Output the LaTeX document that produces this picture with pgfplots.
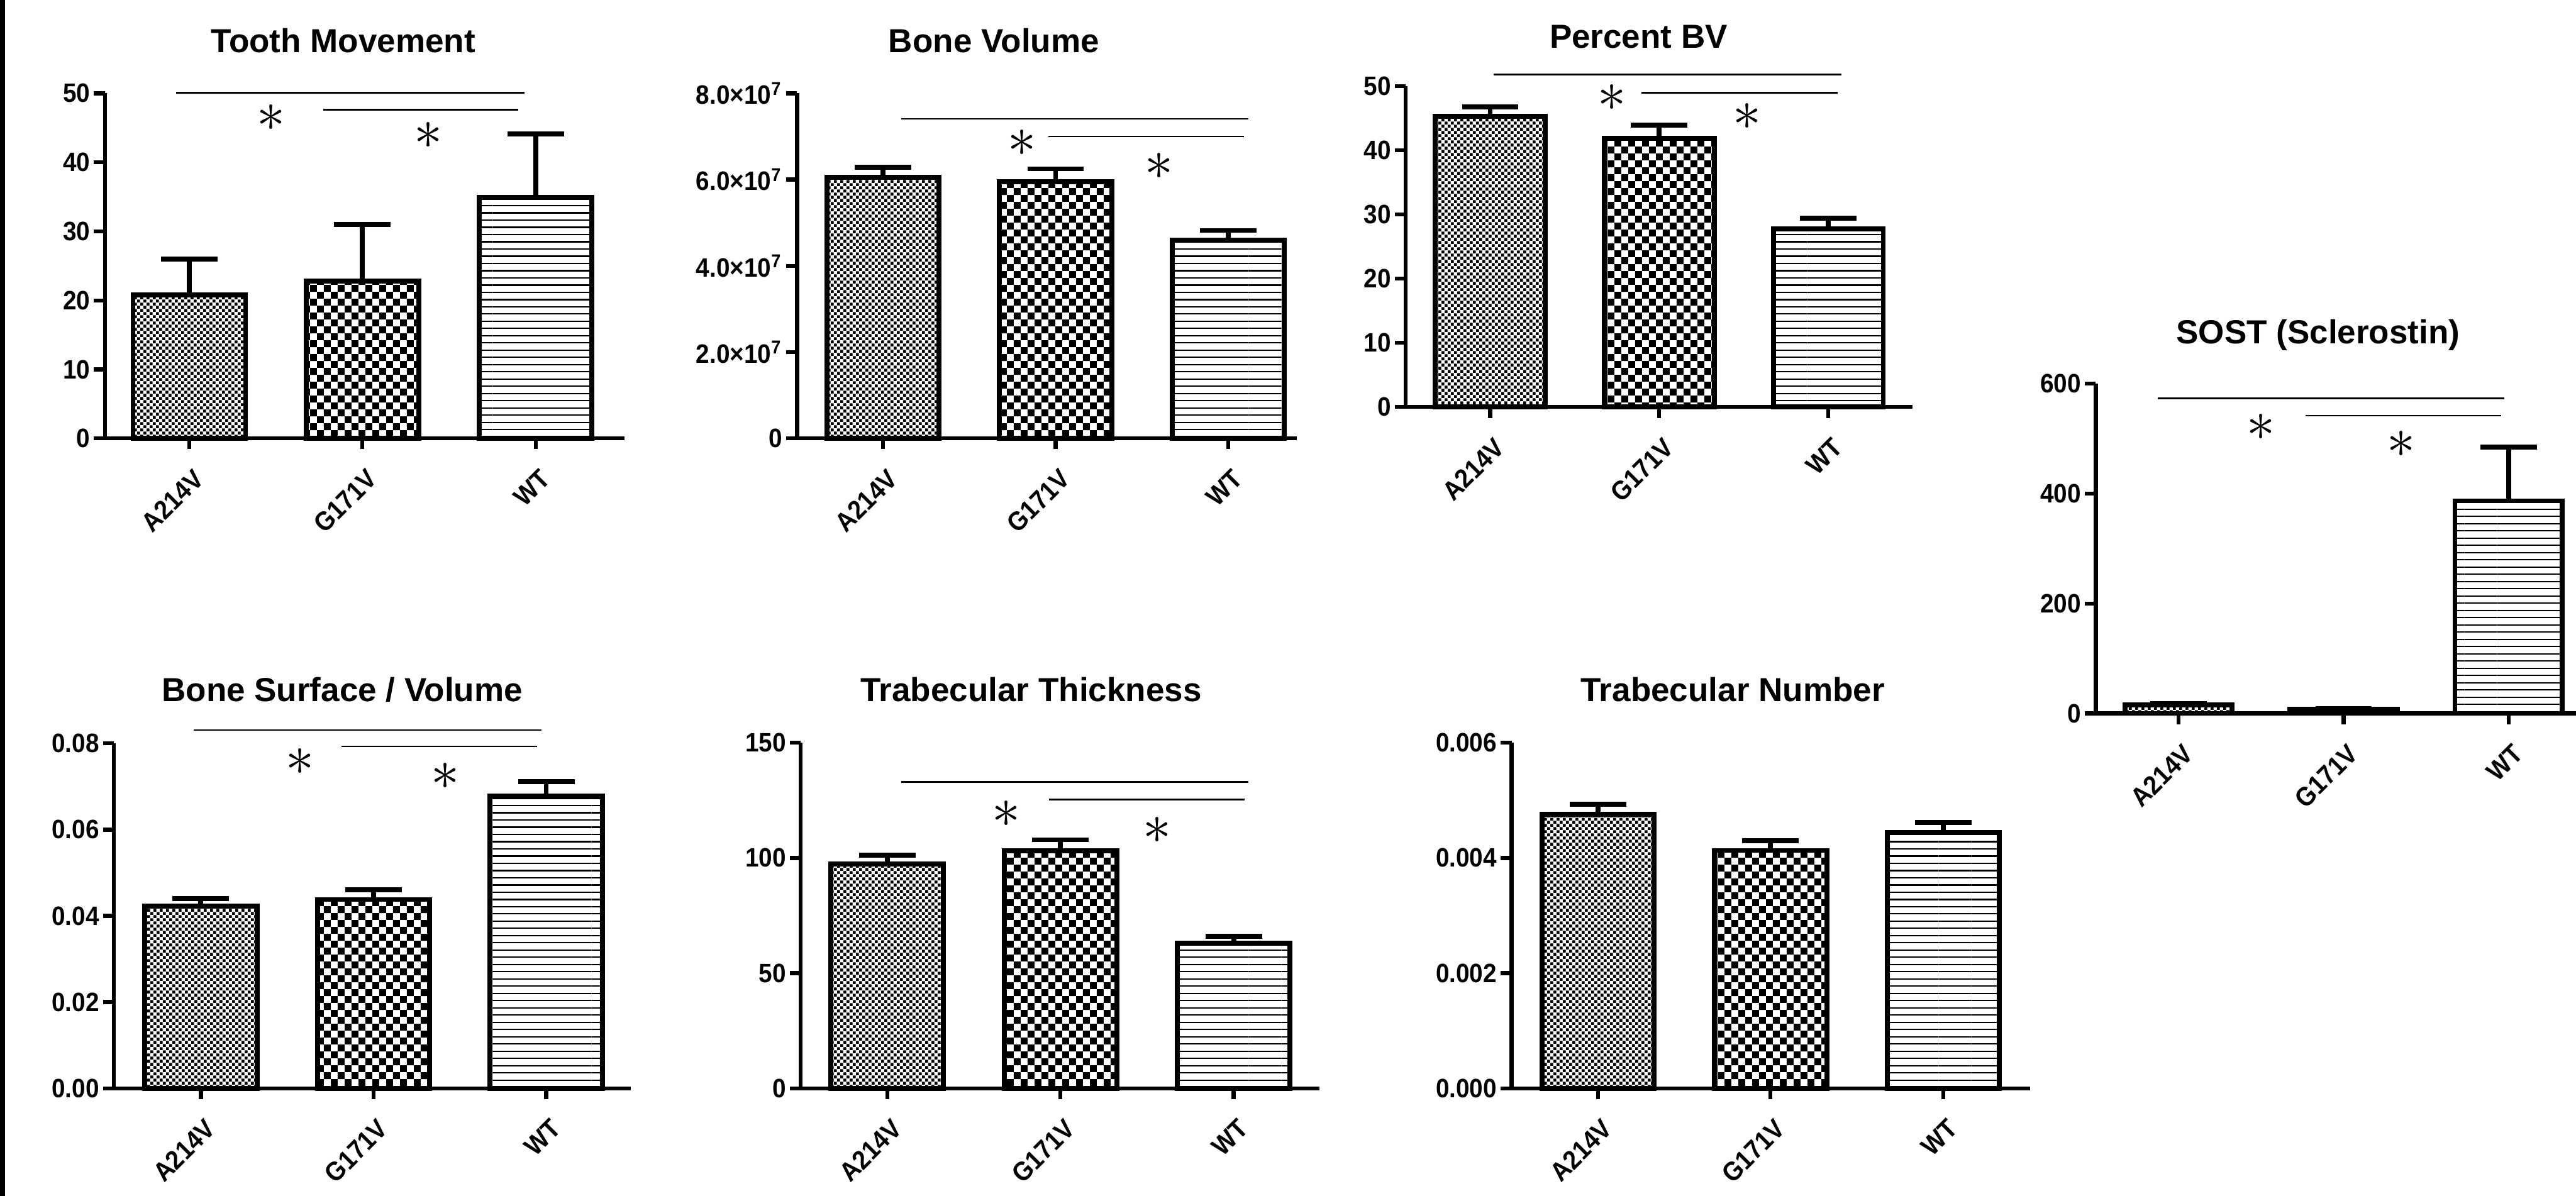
\documentclass[border=0pt]{standalone}
\usepackage{fontspec}
\setmainfont{Liberation Sans}
\newfontfamily\tickfam[FakeStretch=0.915]{Liberation Sans}
\usepackage{pgfplots}
\pgfplotsset{compat=1.18}
\usetikzlibrary{patterns}

\pgfdeclarepatternformonly{finecheck}{\pgfpointorigin}{\pgfqpoint{2pt}{2pt}}{\pgfqpoint{2pt}{2pt}}{%
  \pgfpathrectangle{\pgfqpoint{0.05pt}{0.05pt}}{\pgfqpoint{0.9pt}{0.9pt}}%
  \pgfpathrectangle{\pgfqpoint{1.05pt}{1.05pt}}{\pgfqpoint{0.9pt}{0.9pt}}%
  \pgfusepath{fill}}
\pgfdeclarepatternformonly{coarsecheck}{\pgfpointorigin}{\pgfqpoint{4.2pt}{4.2pt}}{\pgfqpoint{4.2pt}{4.2pt}}{%
  \pgfpathrectangle{\pgfpointorigin}{\pgfqpoint{2.1pt}{2.1pt}}%
  \pgfpathrectangle{\pgfqpoint{2.1pt}{2.1pt}}{\pgfqpoint{2.1pt}{2.1pt}}%
  \pgfusepath{fill}}
\pgfdeclarepatternformonly{hlinesWT}{\pgfqpoint{0pt}{-0.5pt}}{\pgfqpoint{10pt}{0.5pt}}{\pgfqpoint{10pt}{2.2pt}}{%
  \pgfsetlinewidth{0.4pt}%
  \pgfpathmoveto{\pgfqpoint{0pt}{0pt}}%
  \pgfpathlineto{\pgfqpoint{10pt}{0pt}}%
  \pgfusepath{stroke}}

\newcommand\titlefont{\fontsize{10.15}{12}\selectfont\bfseries}
\newcommand\tickfont{\fontsize{8.1}{9}\selectfont\tickfam\bfseries}

\tikzset{sigstar/.style={font=\fontsize{19}{19}\selectfont, inner sep=0pt}}

\pgfplotsset{
  panel/.style={
    scale only axis, anchor=south west,
    axis lines=left,
    every outer x axis line/.append style={-},
    every outer y axis line/.append style={-},
    axis line style={-, line width=1.2pt, black},
    tick align=outside, major tick length=3.3pt,
    tick style={line width=1.2pt, black},
    ymin=0, clip=false, scaled y ticks=false,
    xtick={0,1,2}, xticklabels={A214V,G171V,WT},
    tick label style={font=\tickfont},
    xticklabel style={xshift=3pt, yshift=-7.5pt, rotate=45, anchor=east, inner sep=0pt},
    yticklabel style={inner sep=1pt},
    minor tick num=0,
  },
  errs/.style={
    /pgfplots/error bars/y dir=plus,
    /pgfplots/error bars/y explicit,
    /pgfplots/error bars/error bar style={line width=1.5pt, black},
    /pgfplots/error bars/error mark options={rotate=90, line width=1.5pt, black, mark size=8.6pt},
  },
  barA/.style={ybar, bar width=0.65, bar shift=0pt, draw=black, line width=1.5pt, pattern=finecheck, pattern color=black, errs},
  barG/.style={ybar, bar width=0.65, bar shift=0pt, draw=black, line width=1.5pt, pattern=coarsecheck, pattern color=black, errs},
  barW/.style={ybar, bar width=0.65, bar shift=0pt, draw=black, line width=1.5pt, pattern=hlinesWT, pattern color=black, errs},
  sig/.style={black, line width=0.5pt, mark=none},
}

\begin{document}
\begin{tikzpicture}
\useasboundingbox (0,0) rectangle (784pt,-364pt);
\fill[black] (0,0) rectangle (1.5pt,-364pt);

% Tooth Movement
\begin{axis}[panel, at={(31.9pt,-133.45pt)}, width=158.1pt, height=105.05pt,
  xmin=-0.488, xmax=2.512, ymax=50,
  ytick={0,10,20,30,40,50}, yticklabels={0,10,20,30,40,50}]
\addplot[barA] coordinates {(0,20.8) +- (0,5.2)};
\addplot[barG] coordinates {(1,22.8) +- (0,8.2)};
\addplot[barW] coordinates {(2,34.9) +- (0,9.2)};
\addplot[sig] coordinates {(-0.076,50.1) (1.935,50.1)};
\addplot[sig] coordinates {(0.774,47.6) (1.90,47.6)};
\node[sigstar] at (axis cs:0.473,46.4) {$\ast$};
\node[sigstar] at (axis cs:1.38,43.9) {$\ast$};
\end{axis}

% Bone Volume
\begin{axis}[panel, at={(242.6pt,-133.45pt)}, width=152.1pt, height=105.05pt,
  xmin=-0.498, xmax=2.398, ymax=8e7,
  ytick={0,2e7,4e7,6e7,8e7},
  yticklabels={0,2.0×10\textsuperscript{7},4.0×10\textsuperscript{7},6.0×10\textsuperscript{7},8.0×10\textsuperscript{7}}]
\addplot[barA] coordinates {(0,6.05e7) +- (0,0.24e7)};
\addplot[barG] coordinates {(1,5.95e7) +- (0,0.30e7)};
\addplot[barW] coordinates {(2,4.60e7) +- (0,0.22e7)};
\addplot[sig] coordinates {(0.105,7.41e7) (2.118,7.41e7)};
\addplot[sig] coordinates {(0.957,7.0e7) (2.091,7.0e7)};
\node[sigstar] at (axis cs:0.805,6.85e7) {$\ast$};
\node[sigstar] at (axis cs:1.6,6.31e7) {$\ast$};
\end{axis}

% Percent BV
\begin{axis}[panel, at={(427.8pt,-123.9pt)}, width=154.35pt, height=97.65pt,
  xmin=-0.5, xmax=2.5, ymax=50,
  ytick={0,10,20,30,40,50}, yticklabels={0,10,20,30,40,50}]
\addplot[barA] coordinates {(0,45.3) +- (0,1.5)};
\addplot[barG] coordinates {(1,41.9) +- (0,2.0)};
\addplot[barW] coordinates {(2,27.8) +- (0,1.6)};
\addplot[sig] coordinates {(0.022,51.8) (2.079,51.8)};
\addplot[sig] coordinates {(0.894,49.0) (2.055,49.0)};
\node[sigstar] at (axis cs:0.72,48.2) {$\ast$};
\node[sigstar] at (axis cs:1.52,45.3) {$\ast$};
\end{axis}

% SOST
\begin{axis}[panel, at={(637.85pt,-217.15pt)}, width=146.15pt, height=100.4pt,
  xmin=-0.502, xmax=2.409, ymax=600,
  ytick={0,200,400,600}, yticklabels={0,200,400,600}]
\addplot[barA] coordinates {(0,15) +- (0,3)};
\addplot[barG] coordinates {(1,7) +- (0,2)};
\addplot[barW] coordinates {(2,386.7) +- (0,97.5)};
\addplot[sig] coordinates {(-0.125,573.4) (1.975,573.4)};
\addplot[sig] coordinates {(0.77,541.8) (1.956,541.8)};
\node[sigstar] at (axis cs:0.50,520.9) {$\ast$};
\node[sigstar] at (axis cs:1.35,489.2) {$\ast$};
\end{axis}

% Bone Surface / Volume
\begin{axis}[panel, at={(34.7pt,-331.25pt)}, width=157.3pt, height=104.95pt,
  xmin=-0.503, xmax=2.49, ymax=0.08,
  ytick={0,0.02,0.04,0.06,0.08}, yticklabels={0.00,0.02,0.04,0.06,0.08}]
\addplot[barA] coordinates {(0,0.0423) +- (0,0.0017)};
\addplot[barG] coordinates {(1,0.0438) +- (0,0.0023)};
\addplot[barW] coordinates {(2,0.0678) +- (0,0.0034)};
\addplot[sig] coordinates {(-0.04,0.0831) (1.971,0.0831)};
\addplot[sig] coordinates {(0.814,0.0793) (1.947,0.0793)};
\node[sigstar] at (axis cs:0.575,0.0758) {$\ast$};
\node[sigstar] at (axis cs:1.414,0.0724) {$\ast$};
\end{axis}

% Trabecular Thickness
\begin{axis}[panel, at={(243.7pt,-331.25pt)}, width=157.8pt, height=105.15pt,
  xmin=-0.5, xmax=2.494, ymax=150,
  ytick={0,50,100,150}, yticklabels={0,50,100,150}]
\addplot[barA] coordinates {(0,97.4) +- (0,3.8)};
\addplot[barG] coordinates {(1,103.2) +- (0,4.7)};
\addplot[barW] coordinates {(2,63.0) +- (0,2.9)};
\addplot[sig] coordinates {(0.08,133.0) (2.086,133.0)};
\addplot[sig] coordinates {(0.933,125.3) (2.062,125.3)};
\node[sigstar] at (axis cs:0.687,119.0) {$\ast$};
\node[sigstar] at (axis cs:1.56,111.9) {$\ast$};
\end{axis}

% Trabecular Number
\begin{axis}[panel, at={(460.05pt,-331.25pt)}, width=157.85pt, height=105.15pt,
  xmin=-0.5, xmax=2.504, ymax=0.006,
  ytick={0,0.002,0.004,0.006}, yticklabels={0.000,0.002,0.004,0.006}]
\addplot[barA] coordinates {(0,0.00476) +- (0,0.00017)};
\addplot[barG] coordinates {(1,0.00413) +- (0,0.00017)};
\addplot[barW] coordinates {(2,0.00444) +- (0,0.00018)};
\end{axis}

% titles
\node[anchor=base, font=\titlefont] at (104.45pt,-15.9pt) {Tooth Movement};
\node[anchor=base, font=\titlefont] at (302.5pt,-15.9pt) {Bone Volume};
\node[anchor=base, font=\titlefont] at (498.7pt,-14.6pt) {Percent BV};
\node[anchor=base, font=\titlefont] at (705.5pt,-104.6pt) {SOST (Sclerostin)};
\node[anchor=base, font=\titlefont] at (104.15pt,-213.6pt) {Bone Surface / Volume};
\node[anchor=base, font=\titlefont] at (313.8pt,-213.6pt) {Trabecular Thickness};
\node[anchor=base, font=\titlefont] at (527.35pt,-213.6pt) {Trabecular Number};
\end{tikzpicture}
\end{document}
